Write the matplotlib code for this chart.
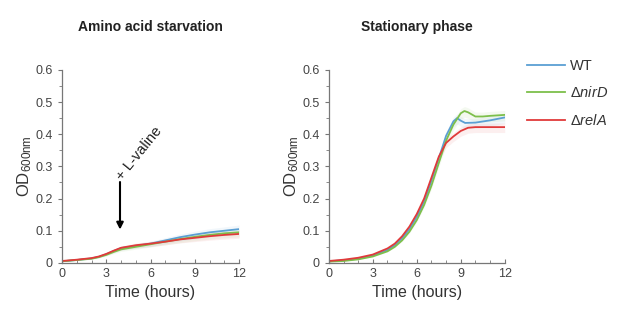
import numpy as np
import matplotlib
matplotlib.use('Agg')
import matplotlib.pyplot as plt
from matplotlib.ticker import MultipleLocator

plt.rcParams['font.family'] = ['Liberation Sans', 'DejaVu Sans']
plt.rcParams['mathtext.fontset'] = 'custom'
plt.rcParams['mathtext.rm'] = 'Liberation Sans'
plt.rcParams['mathtext.it'] = 'Liberation Sans:italic'

# Amino acid starvation panel
t_aa = [0, 1, 2, 2.5, 3, 3.5, 4, 5, 6, 7, 8, 9, 10, 11, 12]
wt_aa = [0.005, 0.009, 0.014, 0.019, 0.027, 0.037, 0.046, 0.053, 0.060, 0.070, 0.080, 0.088, 0.095, 0.100, 0.105]
nird_aa = [0.005, 0.009, 0.013, 0.018, 0.025, 0.034, 0.042, 0.050, 0.058, 0.066, 0.074, 0.081, 0.087, 0.092, 0.095]
rela_aa = [0.006, 0.010, 0.015, 0.020, 0.028, 0.038, 0.047, 0.055, 0.060, 0.066, 0.073, 0.078, 0.083, 0.087, 0.090]

# Stationary phase panel
t_wt = [0, 1, 2, 3, 4, 4.5, 5, 5.5, 6, 6.5, 7, 7.5, 8, 8.5, 8.75, 9, 9.3, 10, 11, 12]
wt_st = [0.005, 0.008, 0.013, 0.023, 0.040, 0.055, 0.077, 0.105, 0.143, 0.190, 0.255, 0.325, 0.395, 0.440, 0.450, 0.442, 0.435, 0.436, 0.443, 0.452]
t_nird = [0, 1, 2, 3, 4, 4.5, 5, 5.5, 6, 6.5, 7, 7.5, 8, 8.5, 9, 9.25, 9.5, 10, 10.5, 11, 12]
nird_st = [0.004, 0.006, 0.011, 0.020, 0.036, 0.050, 0.070, 0.097, 0.133, 0.180, 0.240, 0.310, 0.380, 0.430, 0.465, 0.472, 0.468, 0.455, 0.455, 0.457, 0.460]
t_rela = [0, 1, 2, 3, 4, 4.5, 5, 5.5, 6, 6.5, 7, 7.5, 8, 8.5, 9, 9.5, 10, 11, 12]
rela_st = [0.006, 0.010, 0.016, 0.026, 0.045, 0.060, 0.083, 0.113, 0.152, 0.200, 0.265, 0.330, 0.373, 0.393, 0.410, 0.420, 0.422, 0.422, 0.422]

labels = ['WT', r'$\Delta\mathit{nirD}$', r'$\Delta\mathit{relA}$']
colors = ['#5b9fd3', '#7dbf4b', '#e03a3a']

fig = plt.figure(figsize=(6.17, 3.16), dpi=100)
ax1 = fig.add_axes([0.1005, 0.168, 0.287, 0.611])
ax2 = fig.add_axes([0.533, 0.168, 0.285, 0.611])


def style(ax, title):
    ax.set_xlim(0, 12)
    ax.set_ylim(0, 0.6)
    ax.xaxis.set_major_locator(MultipleLocator(3))
    ax.xaxis.set_minor_locator(MultipleLocator(1))
    ax.yaxis.set_minor_locator(MultipleLocator(0.05))
    ax.set_yticks([0, 0.1, 0.2, 0.3, 0.4, 0.5, 0.6])
    ax.set_yticklabels(['0', '0.1', '0.2', '0.3', '0.4', '0.5', '0.6'])
    for s in ['top', 'right']:
        ax.spines[s].set_visible(False)
    for s in ['left', 'bottom']:
        ax.spines[s].set_color('#777777')
        ax.spines[s].set_linewidth(0.9)
    ax.tick_params(axis='x', which='both', direction='in', color='#777777', labelsize=9, labelcolor='#444444', pad=4)
    ax.tick_params(axis='x', which='major', length=3)
    ax.tick_params(axis='x', which='minor', length=2)
    ax.tick_params(axis='y', which='both', direction='out', color='#777777', labelsize=9, labelcolor='#444444')
    ax.tick_params(axis='y', which='major', length=3)
    ax.tick_params(axis='y', which='minor', length=2)
    ax.set_xlabel('Time (hours)', fontsize=11.5, color='#333333', labelpad=3)
    ax.set_ylabel(r'OD$_{\mathregular{600nm}}$', fontsize=12, color='#333333', labelpad=1)
    ax.set_title(title, fontsize=10, fontweight='bold', color='#222222', pad=28)


for y, c in zip([wt_aa, nird_aa, rela_aa], colors):
    y = np.array(y)
    ax1.fill_between(t_aa, y * 0.85, y * 1.12, color=c, alpha=0.08, lw=0)
    ax1.plot(t_aa, y, color=c, lw=1.3)

for t, y, c, lab in zip([t_wt, t_nird, t_rela], [wt_st, nird_st, rela_st], colors, labels):
    y = np.array(y)
    ax2.fill_between(t, y * 0.96, y * 1.03, color=c, alpha=0.08, lw=0)
    ax2.plot(t, y, color=c, lw=1.3, label=lab)

style(ax1, 'Amino acid starvation')
style(ax2, 'Stationary phase')

ax1.annotate('', xy=(3.93, 0.095), xytext=(3.93, 0.26),
             arrowprops=dict(arrowstyle='-|>', color='black', lw=1.5, mutation_scale=10))
ax1.text(4.25, 0.25, '+ L-valine', rotation=51, fontsize=10.5, color='#222222',
         ha='left', va='bottom', rotation_mode='anchor')

ax2.legend(loc='upper left', bbox_to_anchor=(1.05, 1.125), frameon=False, fontsize=10.5,
           handlelength=2.6, handletextpad=0.4, labelspacing=0.85, labelcolor='#333333')

fig.savefig('out.png', dpi=100)
